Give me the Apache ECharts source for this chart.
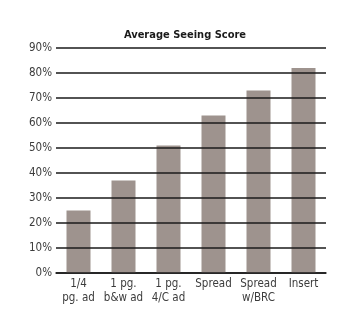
<!DOCTYPE html>
<html><head><meta charset="utf-8">
<script src="https://cdn.jsdelivr.net/npm/echarts@6/dist/echarts.min.js"></script>
<style>html,body{margin:0;padding:0;background:#fff}#c{width:347px;height:324px}</style>
</head><body><div id="c"></div>
<script>
var categories = ['1/4\npg. ad', '1 pg.\nb&w ad', '1 pg.\n4/C ad', 'Spread', 'Spread\nw/BRC', 'Insert'];
var values = [25, 37, 51, 63, 73, 82];
var title = 'Average Seeing Score';
var font = '"DejaVu Sans Condensed", "Liberation Sans Narrow", sans-serif';
var chart = echarts.init(document.getElementById('c'));
chart.setOption({
  animation: false,
  title: {text: title, left: 180, top: 25, textAlign: 'center',
    textStyle: {fontFamily: font, fontSize: 11, fontWeight: 'bold', color: '#1a1a1a'}},
  grid: {left: 56, right: 21, top: 48, bottom: 51},
  xAxis: {type: 'category', data: categories,
    axisLine: {show: true, lineStyle: {color: '#1a1a1a', width: 1.5}},
    axisTick: {show: false},
    axisLabel: {fontFamily: font, fontSize: 11.5, color: '#3c3c3c', margin: 4, lineHeight: 14, interval: 0}},
  yAxis: {type: 'value', min: 0, max: 90, interval: 10, z: 5,
    axisLine: {show: false}, axisTick: {show: false},
    splitLine: {lineStyle: {color: '#1a1a1a', width: 1.5}},
    axisLabel: {formatter: '{value}%', fontFamily: font, fontSize: 11.5, color: '#3c3c3c', margin: 4}},
  series: [{type: 'bar', data: values, barWidth: 24, z: 1,
    itemStyle: {color: '#9e938e'}}]
});
</script></body></html>
